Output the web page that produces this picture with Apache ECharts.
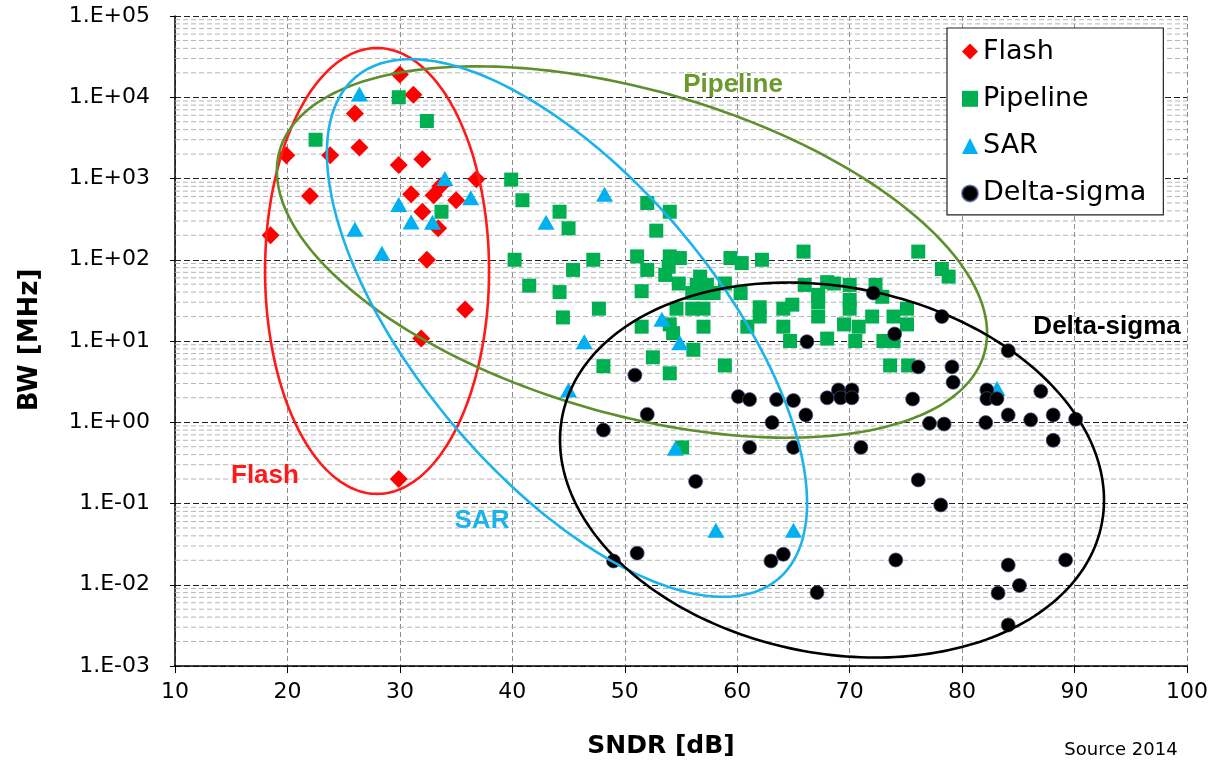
<!DOCTYPE html>
<html>
<head>
<meta charset="utf-8">
<script src="https://cdn.jsdelivr.net/npm/echarts@6/dist/echarts.min.js"></script>
<style>
html,body{margin:0;padding:0;background:#fff;}
#chart{width:1213px;height:771px;}
</style>
</head>
<body>
<div id="chart"></div>
<script>
// ---------- DATA (SNDR in dB, BW in MHz) ----------
const flashSNDR = [30.0, 31.2, 26.0, 26.4, 19.9, 23.8, 29.9, 32.0, 22.0, 31.0, 18.5, 32.0, 33.0, 33.6, 36.8, 35.0, 33.4, 32.4, 35.8, 31.9, 29.9];
const flashBW   = [19000, 10700, 6300, 2400, 1930, 1930, 1470, 1720, 610, 640, 200, 390, 620, 800, 980, 540, 244, 100, 24.5, 10.7, 0.2];

const pipelineSNDR = [22.5, 29.9, 32.4, 33.7, 39.9, 40.9, 44.2, 45.0, 52.0, 54.0, 52.8, 40.2, 47.2, 45.4, 41.5, 44.2, 47.7, 44.5,
  51.1, 52.0, 51.5, 54.0, 54.9, 53.9, 53.6, 54.8, 56.7, 56.4, 57.3, 56.0, 57.0, 57.9, 58.9, 59.4, 60.4, 62.2, 60.3,
  54.6, 56.0, 57.0, 62.0, 62.0, 64.1, 64.9, 51.5, 54.0, 54.3, 57.0, 60.9, 64.1, 64.7, 56.1, 52.5, 54.0, 58.9, 48.1, 55.1,
  65.9, 76.1, 78.2, 78.8, 66.0, 68.0, 68.6, 70.0, 72.3, 67.2, 67.2, 70.0, 70.0, 72.9, 67.2, 69.5, 70.8, 72.0, 73.9,
  75.1, 75.1, 68.0, 70.5, 73.0, 73.9, 73.6, 75.2];
const pipelineBW = [3000, 10000, 5100, 390, 970, 540, 390, 244, 500, 390, 228, 100, 100, 75, 48, 40, 25, 19.5,
  110, 75, 41, 110, 105, 82, 65, 51, 62, 49, 49, 39, 39, 39, 51, 105, 91, 100, 39,
  25, 25, 25, 26, 20, 25, 28, 15, 16, 12.5, 15, 15, 15, 10, 7.8, 6.3, 4.0, 5.0, 4.9, 0.49,
  126, 126, 77, 62, 49, 53, 51, 49, 49, 37, 30, 32, 25, 35, 20, 16, 15, 20, 20,
  25, 16, 10.7, 10, 10, 10, 5.0, 5.0];

const sarSNDR = [26.4, 29.9, 26.0, 31.0, 28.4, 34.0, 36.3, 32.9, 43.0, 48.2, 53.3, 54.9, 46.4, 45.0, 54.5, 58.1, 65.0, 83.1];
const sarBW   = [11000, 480, 237, 292, 120, 1000, 580, 290, 290, 640, 18.5, 9.5, 9.8, 2.5, 0.48, 0.047, 0.047, 2.6];

const dsSNDR = [50.9, 60.1, 61.1, 63.5, 65.0, 72.1, 78.2, 74.0, 66.2, 84.1, 76.1, 79.1, 79.2, 69.0, 70.2, 68.0, 69.2, 70.2,
  82.2, 82.2, 83.1, 75.6, 87.0, 84.1, 86.1, 88.1, 90.1, 77.1, 78.4, 82.1, 88.1, 71.0, 76.1, 78.1, 74.1, 84.1, 89.2,
  85.1, 83.2, 84.1, 52.0, 63.1, 66.1, 48.1, 61.1, 65.0, 56.3, 51.1, 49.0, 63.0, 64.1, 67.1];
const dsBW = [3.8, 2.07, 1.9, 1.9, 1.85, 39, 20, 12.2, 9.8, 7.6, 4.8, 4.8, 3.1, 2.5, 2.5, 2.0, 2.0, 2.0,
  2.5, 1.95, 1.95, 1.93, 2.4, 1.23, 1.07, 1.23, 1.09, 0.97, 0.95, 0.99, 0.6, 0.49, 0.195, 0.096, 0.0202, 0.0175, 0.0202,
  0.0098, 0.0079, 0.0032, 1.25, 0.99, 1.23, 0.8, 0.49, 0.49, 0.187, 0.0245, 0.0196, 0.0196, 0.0237, 0.008];

// Ellipses: centre, end of one semi-diameter, end of its conjugate semi-diameter (data coords)
const ellipseNames = ['Flash', 'Pipeline', 'SAR', 'Delta-sigma'];
const ellipseCenterX = [27.97, 50.64, 44.86, 68.43];
const ellipseCenterY = [72.8, 124.5, 14.45, 0.258];
const ellipseAxis1X  = [27.97, 82.22, 66.21, 92.62];
const ellipseAxis1Y  = [40360, 12.5, 0.1014, 0.110];
const ellipseAxis2X  = [37.93, 50.64, 44.86, 68.43];
const ellipseAxis2Y  = [72.8, 14160, 4688, 48.9];
const ellipseLabelX  = [18.0, 59.63, 37.30, 92.89];
const ellipseLabelY  = [0.218, 14160, 0.061, 14.9];

const xTicks = [10, 20, 30, 40, 50, 60, 70, 80, 90, 100];
const yDecades = [-3, -2, -1, 0, 1, 2, 3, 4, 5];
const minorMultipliers = [2, 3, 4, 5, 6, 7, 8, 9];

// ---------- STYLE ----------
const seriesColors = {Flash: '#FF0000', Pipeline: '#00B050', SAR: '#00B0F0', 'Delta-sigma': '#000000'};
const ellipseColors = ['#FF1A1A', '#5E8F2C', '#1CB2EC', '#000000'];
const labelColors = ['#FF1A1A', '#6A9A2C', '#1CB2EC', '#000000'];

const minorValues = [];
yDecades.slice(0, -1).forEach(e => minorMultipliers.forEach(m => minorValues.push(m * Math.pow(10, e))));

function zip(xs, ys) { return xs.map((x, i) => [x, ys[i]]); }

function fmtY(v) {
  const e = Math.round(Math.log10(v));
  const s = e < 0 ? '-' : '+';
  const a = Math.abs(e);
  return '1.E' + s + (a < 10 ? '0' : '') + a;
}

const chart = echarts.init(document.getElementById('chart'), null, {renderer: 'canvas'});

const ellipseData = ellipseNames.map((n, i) => [ellipseCenterX[i], ellipseCenterY[i], ellipseAxis1X[i], ellipseAxis1Y[i], ellipseAxis2X[i], ellipseAxis2Y[i]]);
const labelData = ellipseNames.map((n, i) => [ellipseLabelX[i], ellipseLabelY[i]]);

const option = {
  backgroundColor: '#ffffff',
  animation: false,
  grid: {left: 175, right: 26, top: 16, bottom: 105, containLabel: false},
  xAxis: {
    type: 'value', min: 10, max: 100, interval: 10,
    axisLine: {show: true, lineStyle: {color: '#000', width: 1.5}},
    axisTick: {show: true, length: 7, lineStyle: {color: '#000'}},
    axisLabel: {color: '#000', fontFamily: 'DejaVu Sans', fontSize: 22, margin: 15},
    splitLine: {show: true, lineStyle: {color: '#8c8c8c', type: [5, 3], width: 1}}
  },
  yAxis: {
    type: 'log', logBase: 10, min: 0.001, max: 100000, interval: 1,
    axisLine: {show: true, lineStyle: {color: '#000', width: 1.5}},
    axisTick: {show: true, length: 5, lineStyle: {color: '#000'}},
    axisLabel: {color: '#000', fontFamily: 'DejaVu Sans', fontSize: 22, margin: 25, formatter: fmtY},
    splitLine: {show: true, lineStyle: {color: '#222', type: [6, 3], width: 1}}
  },
  legend: {
    orient: 'vertical', left: 947, top: 28,
    backgroundColor: '#fff', borderColor: '#222', borderWidth: 1.2,
    padding: [10, 17, 8, 14],
    itemGap: 20.3, itemWidth: 16, itemHeight: 16,
    textStyle: {color: '#000', fontFamily: 'DejaVu Sans', fontSize: 27},
    data: [
      {name: 'Flash', icon: 'diamond'},
      {name: 'Pipeline', icon: 'rect'},
      {name: 'SAR', icon: 'triangle'},
      {name: 'Delta-sigma', icon: 'circle'}
    ]
  },
  graphic: [
    {type: 'text', x: 30, y: 340, rotation: Math.PI / 2,
      style: {text: 'BW [MHz]', font: 'bold 26px "DejaVu Sans"', fill: '#000', align: 'center', verticalAlign: 'middle'}},
    {type: 'text', x: 661, y: 746,
      style: {text: 'SNDR [dB]', font: 'bold 25px "DejaVu Sans"', fill: '#000', align: 'center', verticalAlign: 'middle'}},
    {type: 'text', x: 1121, y: 750,
      style: {text: 'Source 2014', font: '18px "DejaVu Sans"', fill: '#000', align: 'center', verticalAlign: 'middle'}}
  ],
  series: [
    {
      name: 'minorGrid', type: 'custom', z: 1, silent: true,
      data: minorValues.map(v => [10, v]),
      encode: {x: 0, y: 1},
      renderItem: function (params, api) {
        const p = api.coord([api.value(0), api.value(1)]);
        const cs = params.coordSys;
        return {type: 'line', shape: {x1: cs.x, y1: p[1], x2: cs.x + cs.width, y2: p[1]},
          style: {stroke: '#b4b4b4', lineWidth: 1, lineDash: [5, 3]}};
      }
    },
    {name: 'Flash', type: 'scatter', z: 3, symbol: 'diamond', symbolSize: 18,
      itemStyle: {color: seriesColors.Flash, opacity: 1}, data: zip(flashSNDR, flashBW)},
    {name: 'Pipeline', type: 'scatter', z: 3, symbol: 'rect', symbolSize: 14,
      itemStyle: {color: seriesColors.Pipeline, opacity: 1}, data: zip(pipelineSNDR, pipelineBW)},
    {name: 'SAR', type: 'scatter', z: 3, symbol: 'triangle', symbolSize: [17, 15],
      itemStyle: {color: seriesColors.SAR, opacity: 1}, data: zip(sarSNDR, sarBW)},
    {name: 'Delta-sigma', type: 'scatter', z: 3, symbol: 'circle', symbolSize: 14,
      itemStyle: {color: '#000', opacity: 1, borderColor: 'rgba(70,80,140,0.7)', borderWidth: 1}, data: zip(dsSNDR, dsBW)},
    {
      name: 'ellipses', type: 'custom', z: 4, silent: true, clip: false,
      data: ellipseData,
      encode: {x: [0, 2, 4], y: [1, 3, 5]},
      renderItem: function (params, api) {
        const c = api.coord([api.value(0), api.value(1)]);
        const a = api.coord([api.value(2), api.value(3)]);
        const b = api.coord([api.value(4), api.value(5)]);
        const pts = [];
        for (let i = 0; i < 240; i++) {
          const t = i / 240 * 2 * Math.PI;
          pts.push([c[0] + Math.cos(t) * (a[0] - c[0]) + Math.sin(t) * (b[0] - c[0]),
                    c[1] + Math.cos(t) * (a[1] - c[1]) + Math.sin(t) * (b[1] - c[1])]);
        }
        return {type: 'polygon', shape: {points: pts},
          style: {fill: 'none', stroke: ellipseColors[params.dataIndex], lineWidth: 2.6}};
      }
    },
    {
      name: 'ellipseLabels', type: 'custom', z: 5, silent: true, clip: false,
      data: labelData,
      encode: {x: 0, y: 1},
      renderItem: function (params, api) {
        const p = api.coord([api.value(0), api.value(1)]);
        return {type: 'text', x: p[0], y: p[1],
          style: {text: ellipseNames[params.dataIndex], fill: labelColors[params.dataIndex],
            font: 'bold 26px "Liberation Sans", Arial', align: 'center', verticalAlign: 'middle'}};
      }
    }
  ]
};

chart.setOption(option);
</script>
</body>
</html>
